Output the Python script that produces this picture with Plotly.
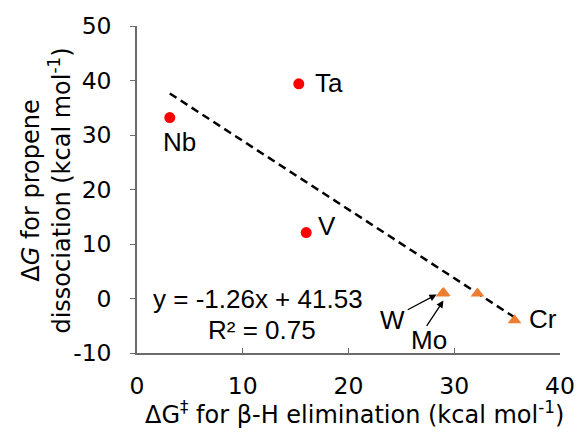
import plotly.graph_objects as go

# Data
group5_names = ["Nb", "Ta", "V"]
group5_x = [3.1, 15.3, 16.0]
group5_y = [33.2, 39.4, 12.1]

group6_names = ["W", "Mo", "", "Cr"]
group6_x = [29.0, 28.9, 32.2, 35.7]
group6_y = [1.0, 0.9, 0.9, -4.0]

slope = -1.26
intercept = 41.53
r_squared = 0.75

x_ticks = [0, 10, 20, 30, 40]
y_ticks = [-10, 0, 10, 20, 30, 40, 50]

WIDE = "DejaVu Sans, sans-serif"
ARIAL = "Liberation Sans, Arial, sans-serif"

all_x = group5_x + group6_x
x0, x1 = min(all_x), max(all_x)

fig = go.Figure()
fig.add_trace(go.Scatter(
    x=[x0, x1], y=[slope * x0 + intercept, slope * x1 + intercept],
    mode="lines", line=dict(color="black", width=2.5, dash="8px,5px"),
    hoverinfo="skip", showlegend=False))
fig.add_trace(go.Scatter(
    x=group5_x, y=group5_y, mode="markers", text=group5_names,
    marker=dict(symbol="circle", size=11, color="#FF0000"), showlegend=False))
fig.add_trace(go.Scatter(
    x=group6_x, y=group6_y, mode="markers", text=group6_names,
    marker=dict(symbol="triangle-up", size=12, color="#ED7D31"), showlegend=False))

lab = dict(font=dict(family=ARIAL, size=26, color="black"), showarrow=False)
annotations = [
    dict(text="Ta", x=16.6, y=39.5, xanchor="left", yanchor="middle", **lab),
    dict(text="Nb", x=3.98, y=28.8, xanchor="center", yanchor="middle", **lab),
    dict(text="V", x=16.9, y=13.3, xanchor="left", yanchor="middle", **lab),
    dict(text="Cr", x=36.9, y=-3.7, xanchor="left", yanchor="middle", **lab),
    dict(text="W", x=24.2, y=-4.0, xanchor="center", yanchor="middle", **lab),
    dict(text="Mo", x=27.6, y=-7.7, xanchor="center", yanchor="middle", **lab),
    dict(text=f"y = {slope:.2f}x + {intercept:.2f}", x=11.4, y=0.0,
         xanchor="center", yanchor="middle", **lab),
    dict(text=f"R² = {r_squared:.2f}", x=11.85, y=-5.85,
         xanchor="center", yanchor="middle", **lab),
]
arrow = dict(text="", showarrow=True, arrowhead=2, arrowsize=1.1, arrowwidth=1.3,
             arrowcolor="black", axref="x", ayref="y", standoff=0)
annotations += [
    dict(x=28.33, y=0.73, ax=25.46, ay=-2.2, **arrow),
    dict(x=28.98, y=-0.37, ax=27.3, ay=-5.3, **arrow),
]
# axis titles
annotations += [
    dict(text="ΔG<sup>‡</sup> for β-H elimination (kcal mol<sup>-1</sup>)",
         xref="paper", yref="paper", x=0.514, y=-0.185, xanchor="center", yanchor="middle",
         showarrow=False, font=dict(family=WIDE, size=24, color="black")),
    dict(text="Δ<i>G</i> for propene<br>dissociation (kcal mol<sup>-1</sup>)",
         xref="paper", yref="paper", x=-0.215, y=0.497, xanchor="center", yanchor="middle",
         textangle=-90, showarrow=False, font=dict(family=WIDE, size=24, color="black")),
]

axis_common = dict(showgrid=False, zeroline=False, showline=True, linecolor="#6b6b6b",
                   linewidth=1.5, tickcolor="#6b6b6b", ticklen=5, tickwidth=1.3,
                   tickfont=dict(family=WIDE, size=23.5, color="black"))
fig.update_layout(
    width=587, height=436,
    margin=dict(l=137, r=18, t=25, b=83),
    plot_bgcolor="white", paper_bgcolor="white",
    xaxis=dict(range=[0, 40], tickvals=x_ticks, ticktext=[str(v) for v in x_ticks],
               ticks="inside", ticklabelstandoff=11, **axis_common),
    yaxis=dict(range=[-10, 50], tickvals=y_ticks, ticktext=[str(v) for v in y_ticks],
               ticks="outside", ticklabelstandoff=14, **axis_common),
    annotations=annotations,
)
fig.write_html("out.html", config={"displayModeBar": False},
               post_script="document.body.style.margin='0';")
